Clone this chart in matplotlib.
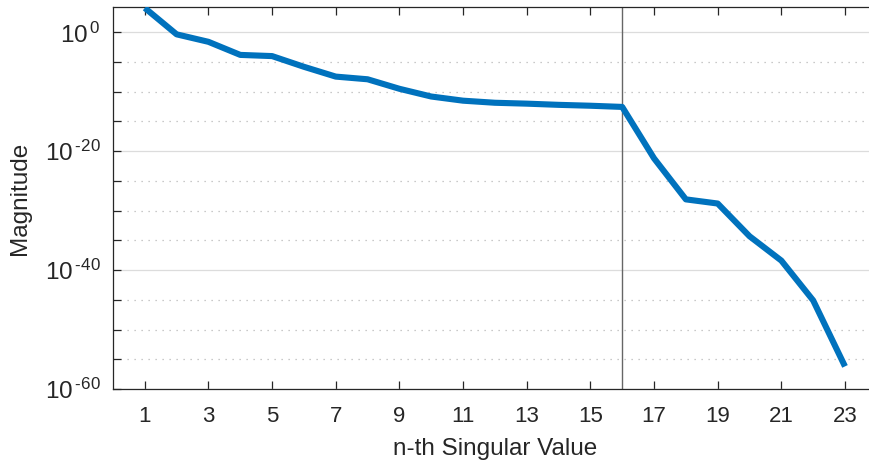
import numpy as np
import matplotlib
matplotlib.use("Agg")
import matplotlib.pyplot as plt
from matplotlib.ticker import FixedLocator, FuncFormatter, NullFormatter

# singular values (log10 of magnitude)
index = list(range(1, 24))
log_sv = [4.1, -0.34, -1.6, -3.8, -4.0, -5.8, -7.45, -7.9, -9.5, -10.8, -11.5,
          -11.85, -12.0, -12.2, -12.35, -12.55, -21.2, -28.1, -28.8, -34.3,
          -38.4, -45.1, -56.2]
cutoff = 16
xticks = [1, 3, 5, 7, 9, 11, 13, 15, 17, 19, 21, 23]
ytick_exp = [-60, -40, -20, 0]

sv = [10.0 ** v for v in log_sv]

plt.rcParams['font.family'] = ['Liberation Sans', 'DejaVu Sans']
plt.rcParams['mathtext.fontset'] = 'custom'
plt.rcParams['mathtext.rm'] = 'Liberation Sans'
plt.rcParams['mathtext.default'] = 'regular'


def exp_label(v, pos):
    e = int(round(np.log10(v)))
    if e < 0:
        return r'$10^{\,\text{-}%d}$' % (-e)
    return r'$10^{\,%d}$' % e


fig = plt.figure(figsize=(8.69, 4.62), dpi=100)
ax = fig.add_axes([0.130, 0.158, 0.879, 0.827])

ax.semilogy(index, sv, color='#0072BD', lw=4.4, solid_capstyle='butt', zorder=3)
ax.axvline(cutoff, color='#666666', lw=1.0, zorder=2)

ax.set_xlim(0, 24)
ax.set_ylim(1e-60, 10 ** 4.27)
ax.set_xticks(xticks)
ax.yaxis.set_major_locator(FixedLocator([10.0 ** e for e in ytick_exp]))
ax.yaxis.set_minor_locator(FixedLocator([10.0 ** e for e in range(-55, 5, 5)
                                         if e % 20 != 0]))
ax.yaxis.set_major_formatter(FuncFormatter(exp_label))
ax.yaxis.set_minor_formatter(NullFormatter())

ax.grid(True, axis='y', which='major', color='#dcdcdc', lw=0.9, ls='-')
ax.grid(True, axis='y', which='minor', color='#b8b8b8', lw=0.9, ls=(0, (1, 4.6)))
ax.set_axisbelow(True)

for s in ax.spines.values():
    s.set_color('#262626')
    s.set_linewidth(0.9)
ax.tick_params(which='both', direction='in', top=True, right=True,
               colors='#262626', width=0.9, length=5.5)
ax.tick_params(axis='x', pad=12, labelsize=16)
ax.tick_params(axis='y', pad=9, labelsize=17.5)

ax.set_xlabel('n-th Singular Value', fontsize=17.5, color='#262626', labelpad=8)
ax.set_ylabel('Magnitude', fontsize=17.5, color='#262626', labelpad=10)

fig.savefig('out.png', dpi=100)
